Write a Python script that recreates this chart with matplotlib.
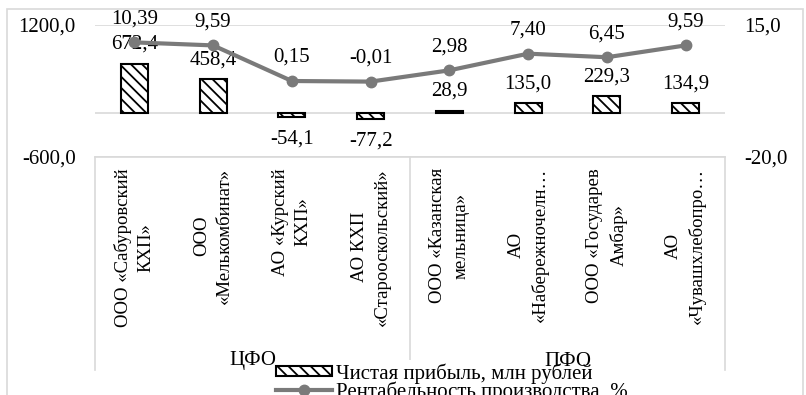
import numpy as np
import matplotlib.pyplot as plt
import matplotlib.transforms as mtransforms
from matplotlib.patches import Rectangle

# данные
companies = ['ООО «Сабуровский\nКХП»', 'ООО\n«Мелькомбинат»', 'АО «Курский\nКХП»',
             'АО КХП\n«Старооскольский»', 'ООО «Казанская\nмельница»', 'АО\n«Набережночелн…',
             'ООО «Государев\nАмбар»', 'АО\n«Чувашхлебопро…']
districts = ['ЦФО', 'ПФО']
district_sizes = [4, 4]
profit = [672.4, 458.4, -54.1, -77.2, 28.9, 135.0, 229.3, 134.9]
rentab = [10.39, 9.59, 0.15, -0.01, 2.98, 7.40, 6.45, 9.59]
left_ticks = [-600, 1200]
right_ticks = [-20, 15]

plt.rcParams['font.family'] = ['Liberation Serif', 'DejaVu Serif']
plt.rcParams['hatch.linewidth'] = 1.3
plt.rcParams['hatch.color'] = 'black'

def comma(v, nd):
    return f"{v:.{nd}f}".replace('.', ',')

fig = plt.figure(figsize=(8.06, 3.95), dpi=100)
ax = fig.add_axes([95 / 806, 238 / 395, 630 / 806, 132 / 395])
x = np.arange(len(companies))

grid_c = '#d9d9d9'
line_c = '#7a7a7a'

# столбцы
bars = ax.bar(x, profit, width=0.34, facecolor='white', edgecolor='black',
              linewidth=1.5, hatch='\\\\\\', label='Чистая прибыль, млн рублей', zorder=3)
ax.axhline(0, color=grid_c, lw=1.2, zorder=1)
ax.set_xlim(-0.5, len(companies) - 0.5)
ax.set_ylim(-600, 1200)
ax.set_yticks(left_ticks)
ax.set_yticklabels([comma(v, 1) for v in left_ticks], fontsize=15)
ax.yaxis.grid(True, color=grid_c, lw=1.2)
ax.set_axisbelow(True)
for s in ['top', 'left', 'right']:
    ax.spines[s].set_visible(False)
ax.spines['bottom'].set_color(grid_c)
ax.spines['bottom'].set_linewidth(1.2)
ax.tick_params(axis='y', length=0, pad=14)
ax.set_xticks(x)
ax.set_xticklabels(companies, rotation=90, fontsize=13.5, ha='center', va='top',
                   multialignment='center', linespacing=1.45)
ax.tick_params(axis='x', length=0, pad=8)

for xi, v in zip(x, profit):
    off = 14 if v >= 0 else -16
    ax.annotate(comma(v, 1), (xi, v), xytext=(0, off), textcoords='offset points',
                ha='center', va='center', fontsize=15, zorder=5)

# линия рентабельности
ax2 = ax.twinx()
ln, = ax2.plot(x, rentab, color=line_c, lw=3, marker='o', ms=7.5,
               label='Рентабельность производства, %', zorder=4)
ax2.set_ylim(-20, 15)
ax2.set_yticks(right_ticks)
ax2.set_yticklabels([comma(v, 1) for v in right_ticks], fontsize=15)
ax2.tick_params(axis='y', length=0, pad=14)
for s in ax2.spines.values():
    s.set_visible(False)
for xi, v in zip(x, rentab):
    ax2.annotate(comma(v, 2), (xi, v), xytext=(0, 17), textcoords='offset points',
                 ha='center', va='center', fontsize=15)

# рамка подписей категорий
box_depth = -(370 - 157) / 132
edges = np.cumsum([0] + district_sizes) - 0.5
for e in edges:
    ax.axvline(e, ymin=box_depth, ymax=0, color=grid_c, lw=1.2, clip_on=False)

# легенда
leg = fig.legend(handles=[bars, ln], loc='upper left', bbox_to_anchor=(273 / 806, 1 - 360 / 395),
                 fontsize=15, frameon=True, facecolor='white', edgecolor='none', framealpha=1,
                 borderpad=0.15, handlelength=2.7, handleheight=0.4, handletextpad=0.15,
                 labelspacing=-0.12, borderaxespad=0, numpoints=1)
leg.set_zorder(5)

# подписи округов поверх легенды
trans = mtransforms.blended_transform_factory(ax.transData, fig.transFigure)
for i, d in enumerate(districts):
    cx = (edges[i] + edges[i + 1]) / 2
    fig.text(cx, 1 - 361 / 395, d, transform=trans, ha='center', va='center',
             fontsize=15, zorder=10)

# внешняя рамка диаграммы
fig.add_artist(Rectangle((7 / 806, -0.05), 796 / 806, 1.05 - 9 / 395, transform=fig.transFigure,
                         fill=False, edgecolor=grid_c, lw=1.2))

plt.savefig('out.png', dpi=100)
plt.close()
